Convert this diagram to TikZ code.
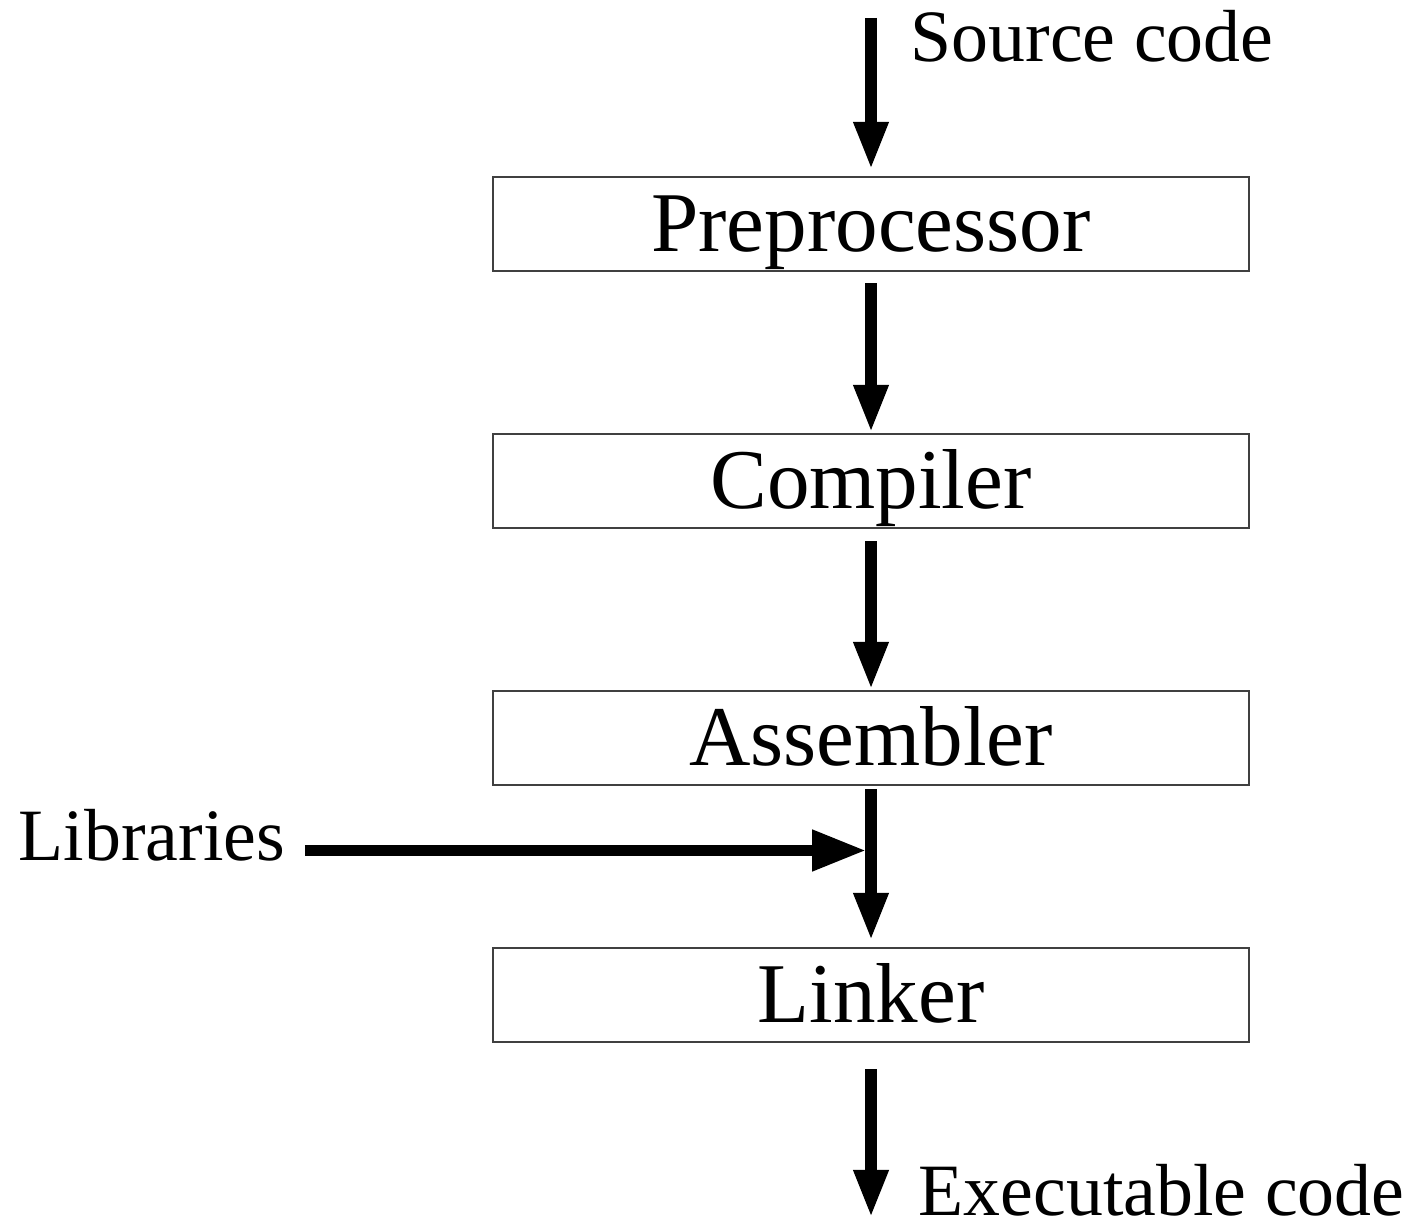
\documentclass[tikz,border=0pt]{standalone}
\usepackage{fontspec}
\setmainfont{Liberation Serif}
\usetikzlibrary{positioning}
\usetikzlibrary{arrows.meta}

\tikzset{
  stage/.style={draw=black!75, line width=0.6pt, minimum width=7.56cm,
    minimum height=0.94cm, inner sep=0pt, text height=0.75cm, text depth=0.19cm,
    font=\fontsize{24.2}{29}\selectfont},
  flow/.style={line width=3.4pt, -{Triangle[length=0.48cm,width=0.32cm]}},
  feed/.style={line width=3.1pt, -{Triangle[length=0.54cm,width=0.39cm]}},
  lbl/.style={anchor=base west, inner sep=0pt, font=\fontsize{21}{25}\selectfont}
}

\begin{document}
\begin{tikzpicture}
     \useasboundingbox (0,0) rectangle (14.15,12.25);

     % the four stages
     \node [stage] (pre)  at (8.71,10.01) {Preprocessor};
     \node [stage] (comp) at (8.71,7.44) {Compiler};
     \node [stage] (asm)  at (8.71,4.87) {Assembler};
     \node [stage] (link) at (8.71,2.30) {Linker};

     \coordinate (src)  at (8.71,12.07);
     \coordinate (exe)  at (8.71,0.07);
     \coordinate (join) at (8.71,3.745);

     \node [lbl] (srclbl) at (9.10,11.63) {Source code};
     \node [lbl] (exelbl) at (9.18,0.09) {Executable code};
     \node [lbl] (libs)   at (0.18,3.64) {Libraries};

     % arrows down the chain
     \draw [flow, shorten >=0.06cm] (src) -- (pre.north);
     \draw [flow, shorten <=0.11cm] (pre.south) -- (comp.north);
     \draw [flow, shorten <=0.12cm] (comp.south) -- (asm.north);
     \draw [feed, shorten <=0.19cm, shorten >=0.05cm] (libs.east |- join) -- (join);
     \draw [flow, shorten <=0.03cm, shorten >=0.06cm] (asm.south) -- (link.north);
     \draw [flow, shorten <=0.26cm] (link.south) -- (exe);
\end{tikzpicture}
\end{document}
